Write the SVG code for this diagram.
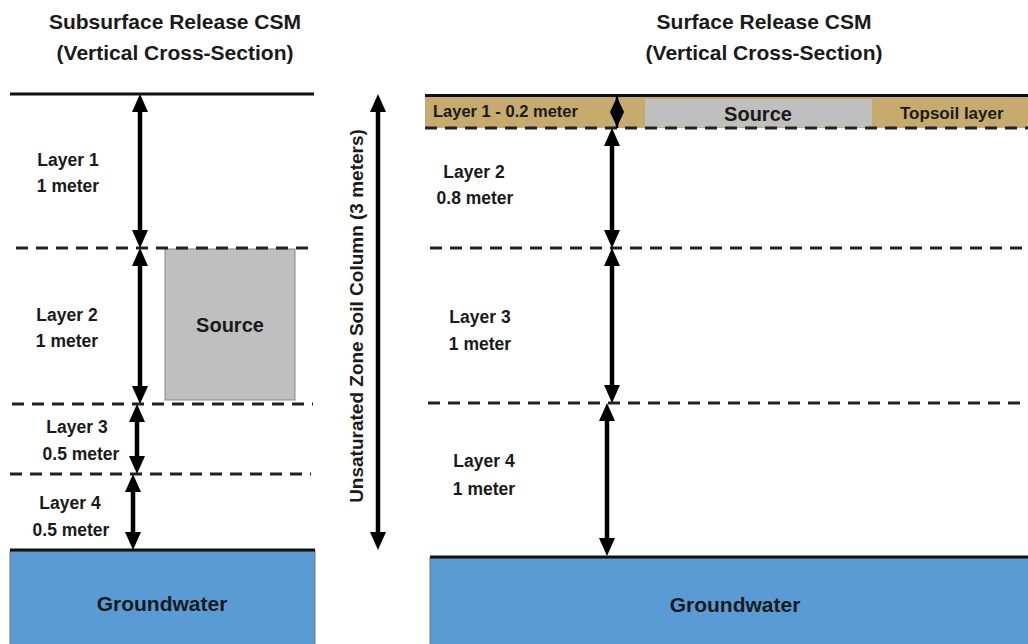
<svg xmlns="http://www.w3.org/2000/svg" width="1028" height="644" viewBox="0 0 1028 644">
<style>
text{font-family:"Liberation Sans",Arial,sans-serif;font-weight:bold;fill:#1a1a1a}
.t{font-size:21px;text-anchor:middle}
.l{font-size:17.5px;text-anchor:middle}
.solid{stroke:#111;stroke-width:3}
.dash{stroke:#222;stroke-width:3;stroke-dasharray:12 8}
.arr{stroke:#000;stroke-width:4.5;marker-start:url(#ah);marker-end:url(#ah)}
.gw{fill:#5b9bd5;stroke:#777;stroke-width:1}
.src{fill:#bfbfbf;stroke:#888;stroke-width:1}
</style>
<defs>
<marker id="ah" viewBox="0 0 18 16" markerUnits="userSpaceOnUse" markerWidth="18" markerHeight="16" refX="6" refY="8" orient="auto-start-reverse">
<path d="M0,0 L18,8 L0,16 z" fill="#000"/>
</marker>
</defs>
<rect width="1028" height="644" fill="#fff"/>

<g id="left-title">
<text class="t" x="175" y="29">Subsurface Release CSM</text>
<text class="t" x="175" y="60">(Vertical Cross-Section)</text>
</g>
<g id="right-title">
<text class="t" x="764" y="29">Surface Release CSM</text>
<text class="t" x="764" y="60">(Vertical Cross-Section)</text>
</g>

<g id="left-source">
<rect class="src" x="165" y="249" width="130" height="151"/>
<text x="230" y="332" style="font-size:20px;text-anchor:middle">Source</text>
</g>

<g id="left-groundwater">
<rect class="gw" x="10" y="551" width="305" height="100"/>
<text x="162" y="611" style="font-size:21px;text-anchor:middle">Groundwater</text>
</g>

<g id="right-topsoil">
<rect x="425" y="97" width="603" height="31" fill="#c6aa6e"/>
<rect x="645" y="99" width="227" height="28" fill="#bfbfbf"/>
<text x="433" y="117" style="font-size:16.5px">Layer 1 - 0.2 meter</text>
<text x="758" y="121" style="font-size:20px;text-anchor:middle">Source</text>
<text x="900" y="119" style="font-size:17px">Topsoil layer</text>
</g>

<g id="right-groundwater">
<rect class="gw" x="430" y="558" width="610" height="100"/>
<text x="735" y="612" style="font-size:21px;text-anchor:middle">Groundwater</text>
</g>

<g id="left-labels">
<text class="l" x="68" y="166">Layer 1</text>
<text class="l" x="68" y="192">1 meter</text>
<text class="l" x="67" y="321">Layer 2</text>
<text class="l" x="67" y="347">1 meter</text>
<text class="l" x="77" y="433">Layer 3</text>
<text class="l" x="81" y="460">0.5 meter</text>
<text class="l" x="70" y="509">Layer 4</text>
<text class="l" x="71" y="536">0.5 meter</text>
</g>

<g id="right-labels">
<text class="l" x="474" y="178">Layer 2</text>
<text class="l" x="475" y="204">0.8 meter</text>
<text class="l" x="480" y="323">Layer 3</text>
<text class="l" x="480" y="350">1 meter</text>
<text class="l" x="484" y="467">Layer 4</text>
<text class="l" x="484" y="495">1 meter</text>
</g>

<g id="column-label">
<text transform="translate(363,316) rotate(-90)" style="font-size:19px;text-anchor:middle">Unsaturated Zone Soil Column (3 meters)</text>
</g>

<g id="connectors">
<line class="solid" x1="10" y1="94" x2="314" y2="94"/>
<line class="dash" x1="16" y1="248" x2="316" y2="248"/>
<line class="dash" x1="12" y1="404" x2="313" y2="404"/>
<line class="dash" x1="10" y1="474" x2="311" y2="474"/>
<line class="solid" x1="10" y1="550" x2="315" y2="550"/>

<line class="solid" x1="425" y1="95.5" x2="1028" y2="95.5"/>
<line class="dash" x1="425" y1="128" x2="1028" y2="128"/>
<line class="dash" x1="430" y1="248" x2="1028" y2="248"/>
<line class="dash" x1="428" y1="403" x2="1028" y2="403"/>
<line class="solid" x1="430" y1="557" x2="1028" y2="557"/>

<line class="arr" x1="140" y1="106" x2="140" y2="236"/>
<line class="arr" x1="140" y1="260" x2="140" y2="392"/>
<line class="arr" x1="137" y1="416" x2="137" y2="462"/>
<line class="arr" x1="133" y1="486" x2="133" y2="538"/>

<line class="arr" x1="378" y1="106" x2="378" y2="538"/>

<path d="M617,97 L624,112 L617,127 L610,112 z" fill="#000"/>
<line stroke="#000" stroke-width="2.5" x1="617" y1="96" x2="617" y2="128"/>
<line class="arr" x1="612" y1="140" x2="612" y2="236"/>
<line class="arr" x1="612" y1="260" x2="612" y2="391"/>
<line class="arr" x1="607" y1="415" x2="607" y2="544"/>
</g>
</svg>
